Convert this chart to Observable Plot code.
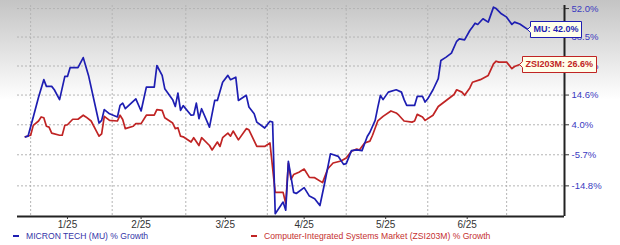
<!DOCTYPE html>
<html><head><meta charset="utf-8">
<script src="https://cdn.jsdelivr.net/npm/d3@7"></script>
<script src="https://cdn.jsdelivr.net/npm/@observablehq/plot@0.6"></script>
<style>
html,body{margin:0;padding:0;}
body{width:620px;height:245px;overflow:hidden;background:linear-gradient(#c4c4c4 0px,#ffffff 100px) no-repeat;font-family:"Liberation Sans",Arial,sans-serif;}
#legend{position:relative;height:15px;font-size:8.6px;}
.item{position:absolute;top:1px;white-space:nowrap;}
.dash{display:inline-block;width:6px;height:2px;vertical-align:middle;margin-right:7px;position:relative;top:-1px;}
</style></head><body>
<div id="chart"></div>
<div id="legend"></div>
<script>
const seriesNames = ["MICRON TECH (MU) % Growth", "Computer-Integrated Systems Market (ZSI203M) % Growth"];
const seriesShort = ["MU", "ZSI203M"];
const seriesColors = ["#1e1eb2", "#c02424"];
const legendTextColors = ["#3535a8", "#c53030"];

const muDates = ["2024-12-30","2024-12-31","2025-01-02","2025-01-04","2025-01-06","2025-01-07","2025-01-09","2025-01-10","2025-01-12","2025-01-14","2025-01-15","2025-01-16","2025-01-19","2025-01-21","2025-01-23","2025-01-27","2025-01-28","2025-01-29","2025-01-31",
"2025-02-03","2025-02-04","2025-02-05","2025-02-06","2025-02-10","2025-02-12","2025-02-14","2025-02-17","2025-02-18","2025-02-20","2025-02-21","2025-02-24","2025-02-25","2025-02-26","2025-02-27","2025-02-28",
"2025-03-03","2025-03-04","2025-03-05","2025-03-06","2025-03-07","2025-03-10","2025-03-12","2025-03-13","2025-03-15","2025-03-17","2025-03-18","2025-03-20","2025-03-21","2025-03-24","2025-03-25","2025-03-27","2025-03-28","2025-03-31",
"2025-04-02","2025-04-03","2025-04-04","2025-04-07","2025-04-08","2025-04-09","2025-04-11","2025-04-12","2025-04-15","2025-04-17","2025-04-19","2025-04-21","2025-04-23","2025-04-25","2025-04-28","2025-04-30",
"2025-05-01","2025-05-03","2025-05-05","2025-05-07","2025-05-09","2025-05-10","2025-05-12","2025-05-13","2025-05-14","2025-05-15","2025-05-17","2025-05-20","2025-05-22","2025-05-23","2025-05-24","2025-05-27","2025-05-28","2025-05-30","2025-05-31",
"2025-06-01","2025-06-03","2025-06-05","2025-06-06","2025-06-08","2025-06-10","2025-06-12","2025-06-13","2025-06-15","2025-06-17","2025-06-18","2025-06-19","2025-06-20","2025-06-22","2025-06-24","2025-06-26","2025-06-27","2025-06-29",
"2025-07-01","2025-07-03","2025-07-04","2025-07-06","2025-07-09"];
const muGrowth = [0.0,0.2,6.7,13.8,20.5,17.9,17.9,16.6,12.9,21.8,21.8,25.3,25.3,29.5,22.2,4.6,5.5,9.3,7.8,
6.7,10.8,11.6,9.6,13.2,8.8,17.6,17.6,26.2,22.2,17.0,12.9,10.4,15.3,9.0,10.7,
7.3,7.4,11.6,6.1,9.6,3.2,12.6,12.6,19.5,22.2,20.5,21.5,12.6,14.5,10.2,7.8,4.9,2.9,
5.2,4.9,-22.2,-19.2,-21.3,-7.7,-16.6,-16.9,-15.3,-17.6,-18.3,-20.1,-13.3,-5.4,-6.2,-8.6,
-8.4,-4.4,-4.2,-4.4,0.1,1.5,5.5,10.1,14.5,12.9,15.7,16.6,15.7,12.9,10.8,10.8,14.1,14.1,12.0,
13.2,16.6,20.9,28.3,29.7,31.4,36.6,37.7,37.2,41.5,43.1,44.9,44.3,47.0,45.4,52.7,52.0,49.4,
47.8,44.3,45.4,44.5,42.0];

const zsiDates = ["2024-12-30","2025-01-01","2025-01-02","2025-01-04","2025-01-05","2025-01-06","2025-01-07","2025-01-08","2025-01-09","2025-01-12","2025-01-13","2025-01-14","2025-01-15","2025-01-17","2025-01-19","2025-01-21","2025-01-22","2025-01-24","2025-01-26","2025-01-27","2025-01-28","2025-01-29","2025-01-31",
"2025-02-03","2025-02-04","2025-02-05","2025-02-06","2025-02-09","2025-02-10","2025-02-12","2025-02-14","2025-02-17","2025-02-18","2025-02-20","2025-02-21","2025-02-24","2025-02-25","2025-02-26","2025-02-27","2025-02-28",
"2025-03-03","2025-03-04","2025-03-06","2025-03-07","2025-03-10","2025-03-11","2025-03-13","2025-03-14","2025-03-15","2025-03-17","2025-03-18","2025-03-19","2025-03-21","2025-03-24","2025-03-25","2025-03-28","2025-03-31",
"2025-04-02","2025-04-04","2025-04-07","2025-04-08","2025-04-09","2025-04-10","2025-04-11","2025-04-13","2025-04-15","2025-04-17","2025-04-19","2025-04-22","2025-04-24","2025-04-26","2025-04-29",
"2025-05-01","2025-05-03","2025-05-05","2025-05-06","2025-05-08","2025-05-10","2025-05-11","2025-05-13","2025-05-15","2025-05-18","2025-05-20","2025-05-21","2025-05-23","2025-05-26","2025-05-27","2025-05-28","2025-05-30","2025-05-31",
"2025-06-03","2025-06-05","2025-06-08","2025-06-11","2025-06-12","2025-06-14","2025-06-15","2025-06-17","2025-06-18","2025-06-21","2025-06-24","2025-06-26","2025-06-27","2025-06-28",
"2025-07-01","2025-07-03","2025-07-04","2025-07-05","2025-07-06"];
const zsiGrowth = [0.0,0.5,3.8,5.3,6.7,6.4,3.5,3.2,1.2,0.5,0.5,3.8,4.0,5.9,5.9,7.3,6.7,5.3,1.9,0.2,1.0,6.9,5.5,
5.3,7.3,5.8,2.7,3.5,4.4,4.4,7.3,7.3,9.3,9.0,6.4,4.6,2.7,3.0,0.2,0.0,
-1.7,-0.3,-2.8,-0.3,-2.8,-4.2,-1.7,-3.1,-0.3,1.2,0.2,1.9,-1.0,2.7,2.3,-3.1,-3.1,
-2.0,-16.6,-16.6,-19.6,-8.3,-13.0,-11.6,-10.9,-10.0,-12.4,-12.5,-13.9,-9.9,-8.2,-7.6,
-6.7,-4.6,-3.9,-4.2,-2.0,-1.4,0.5,5.3,6.9,8.8,8.1,7.3,5.3,4.9,5.3,7.6,6.7,5.5,
7.3,10.4,12.6,14.8,16.6,15.7,14.5,17.3,19.5,20.5,22.2,26.9,28.0,27.6,
27.6,24.9,25.8,26.2,26.6];

const yTickValues = [-14.8, -5.7, 4.0, 14.6, 26.0, 38.5, 52.0];
const monthStarts = ["2025-01-01","2025-02-01","2025-03-01","2025-04-01","2025-05-01","2025-06-01","2025-07-01"];
const monthLabelDates = ["2025-01-15","2025-02-12","2025-03-16","2025-04-15","2025-05-16","2025-06-16"];
const monthLabels = ["1/25","2/25","3/25","4/25","5/25","6/25"];
const xDomain = ["2024-12-27","2025-07-23"];
const yDomainPct = [-22.91, 53.52];

const toRatio = p => 1 + p / 100;
const pctText = r => ((r - 1) * 100).toFixed(1) + "%";
const mu = muDates.map((d, i) => ({date: new Date(d), v: muGrowth[i], r: toRatio(muGrowth[i])}));
const zsi = zsiDates.map((d, i) => ({date: new Date(d), v: zsiGrowth[i], r: toRatio(zsiGrowth[i])}));
const xDom = xDomain.map(d => new Date(d));
const yDom = yDomainPct.map(toRatio);
const grid = {stroke: "#b4b4b4", strokeOpacity: 1, strokeDasharray: "2,2", strokeWidth: 1};
const labelMap = new Map(monthLabelDates.map((d, i) => [+new Date(d), monthLabels[i]]));

const plot = Plot.plot({
  width: 620, height: 230,
  marginLeft: 17, marginRight: 56, marginTop: 5, marginBottom: 14,
  style: {background: "transparent", fontFamily: "Liberation Sans, Arial, sans-serif"},
  x: {type: "utc", domain: xDom},
  y: {type: "log", domain: yDom},
  marks: [
    Plot.gridY(yTickValues.map(toRatio), grid),
    Plot.gridX(monthStarts.map(d => new Date(d)), grid),
    Plot.lineY(zsi, {x: "date", y: "r", stroke: seriesColors[1], strokeWidth: 1.7}),
    Plot.lineY(mu, {x: "date", y: "r", stroke: seriesColors[0], strokeWidth: 1.7}),
    Plot.ruleY([yDom[0]], {stroke: "#222", strokeWidth: 2}),
    Plot.ruleX([xDom[1]], {stroke: "#222", strokeWidth: 2}),
    Plot.axisY(yTickValues.map(toRatio), {anchor: "right", tickSize: 4, tickPadding: 3, fontSize: 9.5, fill: "#3a3abf", stroke: "#333",
      text: pctText, label: null}),
    Plot.axisX(monthLabelDates.map(d => new Date(d)), {anchor: "bottom", tickSize: 3, tickPadding: 1, fontSize: 10, fill: "#333", stroke: "#333",
      text: d => labelMap.get(+d), label: null}),
    Plot.tip([mu[mu.length - 1]], {x: "date", y: "r", anchor: "left", title: d => `${seriesShort[0]}: ${d.v.toFixed(1)}%`,
      pointerSize: 6, textPadding: 3, fontSize: 9, fontWeight: "bold", fill: "#ffffea", stroke: seriesColors[0], pathFilter: "none"}),
    Plot.tip([zsi[zsi.length - 1]], {x: "date", y: "r", anchor: "left", title: d => `${seriesShort[1]}: ${d.v.toFixed(1)}%`,
      pointerSize: 6, textPadding: 3, fontSize: 9, fontWeight: "bold", fill: "#ffffea", stroke: seriesColors[1], pathFilter: "none"})
  ]
});
document.getElementById("chart").appendChild(plot);
const tips = plot.querySelectorAll('g[aria-label="tip"]');
tips.forEach((g, k) => {
  g.querySelectorAll("text, tspan").forEach(t => { t.setAttribute("fill", seriesColors[k]); t.style.fill = seriesColors[k]; t.setAttribute("stroke", "none"); });
});

const legend = d3.select("#legend");
const legendLeft = [13, 251];
seriesNames.forEach((name, i) => {
  const it = legend.append("div").attr("class", "item").style("left", legendLeft[i] + "px").style("color", legendTextColors[i]);
  it.append("span").attr("class", "dash").style("background", seriesColors[i]);
  it.append("span").text(name);
});
</script>
</body></html>
